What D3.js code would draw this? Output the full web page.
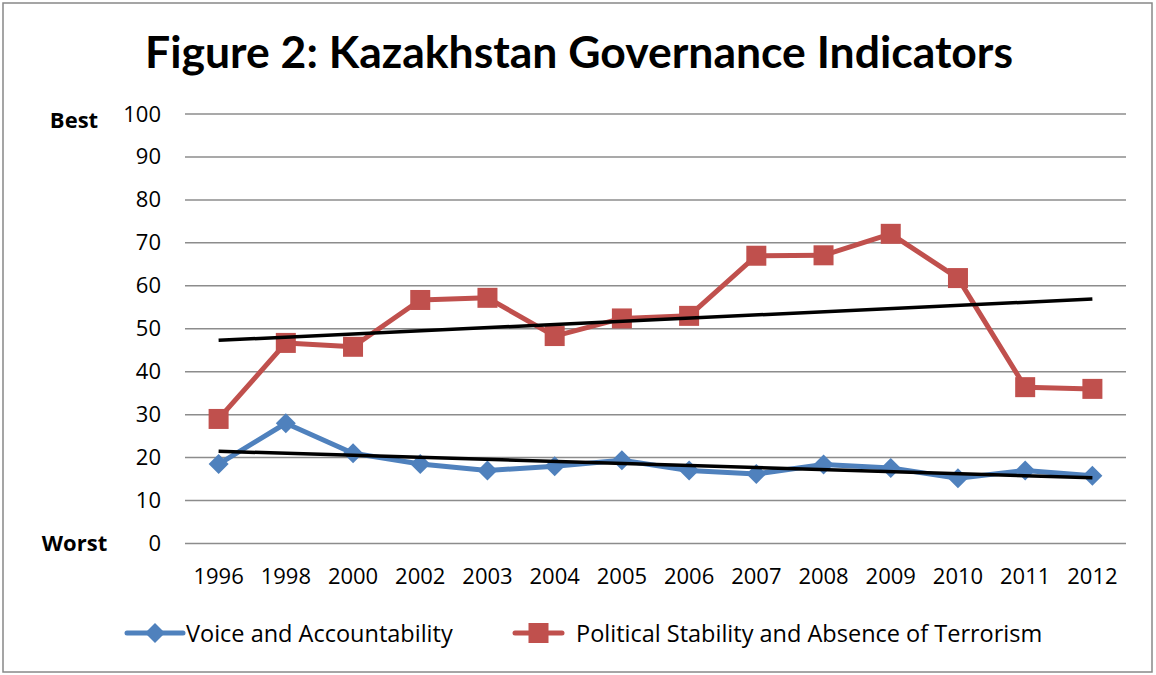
<!DOCTYPE html>
<html><head><meta charset="utf-8">
<script src="https://cdn.jsdelivr.net/npm/d3@7"></script>
<style>body{margin:0;background:#fff;} text{font-family:"Open Sans",sans-serif;} .title{font-family:Lato,sans-serif;}</style>
</head><body>
<svg id="c" width="1156" height="675"></svg>
<script>
const years = ["1996","1998","2000","2002","2003","2004","2005","2006","2007","2008","2009","2010","2011","2012"];
const voice = [18.5,28,21,18.5,17,18,19.4,17,16.2,18.4,17.6,15.2,17,15.8];
const stability = [29,46.7,45.8,56.7,57.2,48.3,52.4,53,67,67.1,72.1,61.8,36.4,36];
const yTicks = [0,10,20,30,40,50,60,70,80,90,100];
const seriesNames = ["Voice and Accountability","Political Stability and Absence of Terrorism"];
const colors = ["#4F81BD","#C0504D"];

const svg = d3.select("#c");
svg.append("rect").attr("x",3).attr("y",3).attr("width",1149).attr("height",669)
  .attr("fill","#fff").attr("stroke","#888").attr("stroke-width",1.5);

const x = d3.scaleBand().domain(years).range([185,1126]);
const y = d3.scaleLinear().domain([0,100]).range([543.5,114]);

svg.append("text").attr("class","title").attr("x",579).attr("y",68).attr("text-anchor","middle")
  .attr("font-size",44.5).attr("font-weight","bold").text("Figure 2: Kazakhstan Governance Indicators");

// grid
svg.append("g").selectAll("line").data(yTicks).join("line")
  .attr("x1",185).attr("x2",1126).attr("y1",d=>y(d)).attr("y2",d=>y(d))
  .attr("stroke","#8c8c8c").attr("stroke-width",1.5);

const ya = svg.append("g").attr("transform","translate(161,0)")
  .call(d3.axisLeft(y).tickValues(yTicks).tickSize(0).tickPadding(0));
ya.select(".domain").remove();
ya.selectAll("text").attr("font-size",22).style("font-family","'Open Sans',sans-serif").attr("fill","#000");

const xa = svg.append("g").attr("transform","translate(0,565)")
  .call(d3.axisBottom(x).tickSize(0).tickPadding(0));
xa.select(".domain").remove();
xa.selectAll("text").attr("font-size",22).style("font-family","'Open Sans',sans-serif").attr("fill","#000").attr("dy","0.85em");

svg.append("text").attr("x",74).attr("y",128).attr("text-anchor","middle")
  .attr("font-size",22).attr("font-weight","bold").text("Best");
svg.append("text").attr("x",74.5).attr("y",551).attr("text-anchor","middle")
  .attr("font-size",22).attr("font-weight","bold").text("Worst");

const cx = d => x(d)+x.bandwidth()/2;
const line = d3.line().x((d,i)=>cx(years[i])).y(d=>y(d));

function trend(vals){
  const n = vals.length, mx=(n-1)/2, my=d3.mean(vals);
  let sxy=0,sxx=0; vals.forEach((v,i)=>{sxy+=(i-mx)*(v-my);sxx+=(i-mx)*(i-mx);});
  const b=sxy/sxx, a=my-b*mx;
  return [a, a+b*(n-1)];
}

const data=[voice,stability];
data.forEach((vals,k)=>{
  svg.append("path").attr("d",line(vals)).attr("fill","none")
    .attr("stroke",colors[k]).attr("stroke-width",5).attr("stroke-linejoin","round");
  const g = svg.append("g");
  if(k===0){
    g.selectAll("path").data(vals).join("path")
      .attr("d",d3.symbol().type(d3.symbolSquare).size(200))
      .attr("transform",(d,i)=>`translate(${cx(years[i])},${y(d)}) rotate(45)`)
      .attr("fill",colors[k]);
  } else {
    g.selectAll("rect").data(vals).join("rect")
      .attr("x",(d,i)=>cx(years[i])-10).attr("y",d=>y(d)-10).attr("width",20).attr("height",20)
      .attr("fill",colors[k]);
  }
});
data.forEach(vals=>{
  const t=trend(vals);
  svg.append("line").attr("x1",cx(years[0])).attr("x2",cx(years[years.length-1]))
    .attr("y1",y(t[0])).attr("y2",y(t[1])).attr("stroke","#000").attr("stroke-width",3.5);
});

// legend
const leg=[{x0:127,x1:183,tx:186},{x0:515,x1:562,tx:576}];
leg.forEach((l,k)=>{
  const ly=633;
  svg.append("line").attr("x1",l.x0).attr("x2",l.x1).attr("y1",ly).attr("y2",ly)
    .attr("stroke",colors[k]).attr("stroke-width",5).attr("stroke-linecap","round");
  const mxp=(l.x0+l.x1)/2;
  if(k===0) svg.append("path").attr("d",d3.symbol().type(d3.symbolSquare).size(200))
      .attr("transform",`translate(${mxp},${ly}) rotate(45)`).attr("fill",colors[k]);
  else svg.append("rect").attr("x",mxp-10).attr("y",ly-10).attr("width",20).attr("height",20).attr("fill",colors[k]);
  svg.append("text").attr("x",l.tx).attr("y",ly+9).attr("font-size",23.5).text(seriesNames[k]);
});
</script>
</body></html>
